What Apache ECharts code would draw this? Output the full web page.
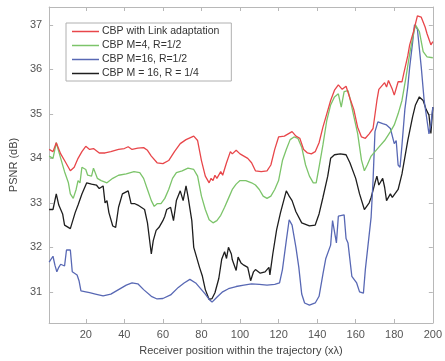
<!DOCTYPE html>
<html><head><meta charset="utf-8">
<script src="https://cdn.jsdelivr.net/npm/echarts@6/dist/echarts.min.js"></script>
<style>html,body{margin:0;padding:0;background:#fff}#c{width:445px;height:361px}</style>
</head><body><div id="c"></div>
<script>
const seriesNames = ['CBP with Link adaptation','CBP M=4, R=1/2','CBP M=16, R=1/2','CBP M = 16, R = 1/4'];
const xTicks = [20,40,60,80,100,120,140,160,180,200];
const yTicks = [31,32,33,34,35,36,37];

const redX = [1,3,4.7,7,9,12,14,16,18,20,22,24,27,30,33,37,40,42,44,47,50,52,54,57,60,63,66,69,72,76,78,80,82,84,85,86,87,88,90,91,93,95,96,98,100,102,104,106,108,111,114,116,118,120,123,125,127,129,131,133,135,137,139,141,143,145,147,149,151,153,155,157,159,161,163,165,167,169,171,172,174,175,176,177,179,180,182,184,185,187,188,190,192,194,196,197,199,200];
const redY = [34.2,34.15,34.35,34.1,33.95,33.72,33.8,34.0,34.15,34.27,34.2,34.22,34.12,34.12,34.15,34.2,34.22,34.26,34.2,34.23,34.24,34.18,34.05,33.9,33.88,33.95,34.15,34.33,34.42,34.5,34.4,33.95,33.6,33.45,33.55,33.5,33.62,33.55,33.7,33.62,33.9,34.15,34.1,34.18,34.1,34.05,34.0,33.9,33.72,33.7,33.72,33.85,34.2,34.48,34.5,34.55,34.6,34.5,34.45,34.2,34.12,34.1,34.15,34.35,34.7,35.0,35.3,35.53,35.65,35.55,35.62,35.35,35.1,34.7,34.48,34.45,34.55,34.67,35.3,35.55,35.65,35.7,35.6,35.75,35.55,35.42,35.72,35.72,35.92,36.3,36.55,36.85,37.2,37.17,36.95,36.8,36.55,36.62];

const greenX = [1,3,4.7,7,9,11,12,13.5,15,16,17,18,20,21,23,24,26,28,31,34,37,41,45,48,50,52,54,55.5,57,59,61,63,65,67,70,73,76,78,80,82,84,86,88,90,92,94,96,98,100,103,106,108,110,112,114,116,118,120,122,124,126,128,130,132,134,136,138,139.5,141,143,145,147,149,151,152.5,154,156,157,159,161,163,164.5,166,168,170,172,175,178,180,182,184,186,188,190,191,193,195,197,200];
const greenY = [34.05,34.0,34.35,34.0,33.7,33.45,33.2,33.1,33.3,33.5,33.45,33.8,33.75,33.62,33.6,33.78,33.55,33.5,33.45,33.55,33.62,33.65,33.7,33.68,33.55,33.3,33.05,32.92,32.98,32.98,33.1,33.3,33.55,33.68,33.72,33.78,33.75,33.6,33.15,32.85,32.62,32.55,32.6,32.72,32.9,33.1,33.3,33.42,33.5,33.5,33.45,33.4,33.3,33.15,33.1,33.15,33.3,33.5,33.95,34.2,34.42,34.48,34.45,34.25,33.85,33.6,33.45,33.45,33.8,34.3,34.85,35.2,35.38,35.45,35.15,35.5,35.52,35.35,34.95,34.56,33.96,33.72,33.85,34.05,34.15,34.25,34.4,34.6,34.75,35.0,35.3,35.8,36.35,36.8,37.0,36.85,36.4,36.28,36.26];

const blueX = [1,3,4,5,6,7,9,10,12,13,15.5,16.5,17.5,20,22,25,29,33,37,41,44,47,50,54,57,60,64,68,71,74,77,80,82,84,85.5,88,91,94,98,102,106,110,114,118,120.5,122,124,125.5,127,129,130.5,132,133.5,136,139,141,143,144.5,147,148,149,150,151,154,155,156,158,160.5,162,164,165,166,168,169,170,171.5,174,176,178,180,181,182,183,184,185.5,187,188,189.5,190.5,192,194,195.5,197,198,199,200];
const blueY = [31.67,31.8,31.6,31.45,31.55,31.62,31.58,31.94,31.94,31.45,31.38,31.25,31.02,31.0,30.98,30.95,30.91,30.95,31.05,31.15,31.2,31.18,31.05,30.9,30.84,30.85,30.93,31.1,31.2,31.28,31.2,31.05,30.95,30.83,30.77,30.88,31.0,31.07,31.12,31.15,31.18,31.17,31.15,31.17,31.2,31.5,32.15,32.62,32.5,32.0,31.55,30.95,30.75,30.7,30.75,30.9,31.4,31.75,32.05,32.6,32.62,32.1,32.7,32.73,32.2,32.1,31.35,31.2,31.0,30.97,31.5,31.53,32.68,33.5,34.6,34.82,34.78,34.75,34.67,34.33,34.4,33.85,33.8,34.3,35.1,35.6,36.05,36.6,37.0,36.9,36.05,35.3,34.85,34.55,34.75,35.15];

const blackX = [1,3,4.7,6,8,9,12,13,14.5,16,18,20.5,23,25.5,27,29,30,31,32,34,35.5,37,39,42,43.5,45.5,47,50.5,52,54,55,56.5,58,60,61,62,64,65.5,67,69,70.5,72,73,75,76,79,80.5,82,84,85.5,87,89,90.5,92,93,94,95.5,96,98,99,100.5,102,104,105.5,107,108,110.5,113,114,115,115.5,117,119,121,124,125.5,127,129,132,136,139,141,143,145.5,147,149,152,155,157,160,162,164.5,167,168,170,171,172,174,175,176,178,179,180,182,184,187,189.5,191,193,195,196.5,198,199,200];
const blackY = [32.85,32.85,33.2,32.95,32.75,32.5,32.42,32.38,32.78,32.95,33.2,33.45,33.42,33.4,33.32,33.38,33.0,33.05,32.78,32.48,32.45,32.9,33.2,33.27,32.98,32.98,32.95,32.85,32.55,31.85,32.15,32.38,32.45,32.6,32.7,32.85,32.9,32.6,33.05,33.27,33.05,33.38,33.15,32.6,32.0,31.55,31.35,31.05,30.83,30.85,30.98,31.3,31.73,31.9,31.75,32.0,31.85,31.72,31.48,31.78,31.65,31.6,31.55,31.25,31.45,31.5,31.42,31.45,31.42,31.55,31.38,31.85,32.4,32.78,33.27,33.15,33.05,32.8,32.55,32.48,32.5,32.75,33.12,33.6,34.0,34.08,34.1,34.08,33.9,33.55,33.2,32.85,33.0,33.12,33.45,33.6,33.4,33.55,33.35,33.05,33.2,33.12,33.15,33.3,33.65,34.4,34.93,35.2,35.38,35.3,35.1,34.97,34.56,35.15];

const colors = ['#e8464a','#7cc46a','#5868b4','#1e1e1e'];
const xs = [redX, greenX, blueX, blackX];
const ys = [redY, greenY, blueY, blackY];

const chart = echarts.init(document.getElementById('c'), null, {renderer:'canvas'});
const FONT = 'Liberation Sans';
const axisLine = {show:true, lineStyle:{color:'#b8b8b8', width:1}};
const tick = {show:true, inside:true, length:4, lineStyle:{color:'#b8b8b8'}};
chart.setOption({
  animation:false,
  textStyle:{fontFamily:FONT},
  grid:{left:41, right:5, top:7, bottom:36},
  legend:{
    orient:'vertical', left:66, top:23,
    backgroundColor:'#fff', borderColor:'#b0b0b0', borderWidth:1,
    padding:[3,12,2,6], itemGap:3, itemWidth:27, itemHeight:1.5, icon:'rect',
    textStyle:{fontFamily:FONT, fontSize:10.5, color:'#333', padding:[0,0,0,-2]},
    data: seriesNames
  },
  xAxis:[
    {type:'value', min:1, max:200, position:'bottom',
     name:'Receiver position within the trajectory (x\u03bb)', nameLocation:'middle', nameGap:22,
     nameTextStyle:{fontFamily:FONT, fontSize:11, color:'#444'},
     axisLine, axisTick:{...tick, customValues:xTicks},
     axisLabel:{customValues:xTicks, fontFamily:FONT, fontSize:11, color:'#555', margin:6},
     splitLine:{show:false}},
    {type:'value', min:1, max:200, position:'top',
     axisLine, axisTick:{...tick, customValues:xTicks}, axisLabel:{show:false}, splitLine:{show:false}}
  ],
  yAxis:[
    {type:'value', min:30.3, max:37.4, position:'left',
     name:'PSNR (dB)', nameLocation:'middle', nameGap:22, nameRotate:90,
     nameTextStyle:{fontFamily:FONT, fontSize:11, color:'#444'},
     axisLine, axisTick:{...tick, customValues:yTicks},
     axisLabel:{customValues:yTicks, fontFamily:FONT, fontSize:11, color:'#555', margin:7},
     splitLine:{show:false}},
    {type:'value', min:30.3, max:37.4, position:'right',
     axisLine, axisTick:{...tick, customValues:yTicks}, axisLabel:{show:false}, splitLine:{show:false}}
  ],
  series: seriesNames.map((n,i)=>({
    name:n, type:'line', symbol:'none', showSymbol:false,
    data: xs[i].map((x,j)=>[x, ys[i][j]]),
    lineStyle:{color:colors[i], width:1.3}, itemStyle:{color:colors[i]},
    z: i===0?5:(4-i)
  }))
});
</script></body></html>
